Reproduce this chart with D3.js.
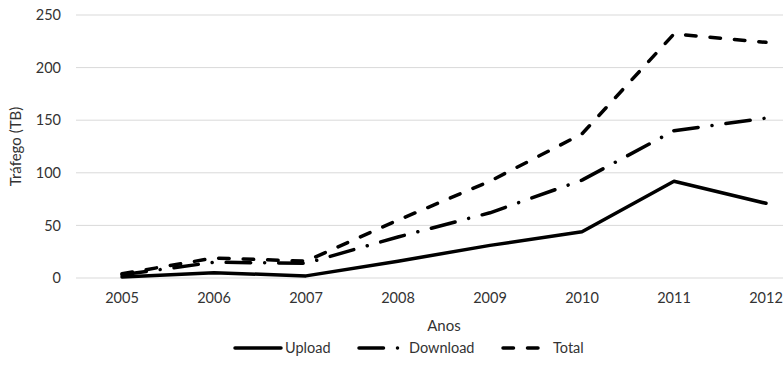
<!DOCTYPE html>
<html>
<head>
<meta charset="utf-8">
<script src="https://cdn.jsdelivr.net/npm/d3@7"></script>
<style>
  html, body { margin: 0; padding: 0; background: #fff; }
  svg text { font-family: Lato, "Open Sans", sans-serif; fill: #333; }
</style>
</head>
<body>
<svg id="chart" width="783" height="388"></svg>
<script>
// chart data
const years = ["2005", "2006", "2007", "2008", "2009", "2010", "2011", "2012"];
const upload = [1, 5, 2, 16, 31, 44, 92, 71];
const download = [3, 15, 14, 39, 62, 93, 140, 152];
const total = [4, 19, 16, 55, 92, 137, 232, 224];
const yTicks = [0, 50, 100, 150, 200, 250];

const series = [
  { name: "Upload", values: upload, dash: null },
  { name: "Download", values: download, dash: "24.5,14,0.01,14" },
  { name: "Total", values: total, dash: "10.5,14" },
];

const svg = d3.select("#chart");
const W = 783, H = 388;
// plot runs past the right edge, as in the source
const plotL = 76, plotR = 812, plotT = 15, plotB = 278;
const fs = 14.5;

// category axis: each year sits in the middle of its slot
const x = d3.scaleBand().domain(years).range([plotL, plotR]);
const xc = (i) => x(years[i]) + x.bandwidth() / 2;
const y = d3.scaleLinear().domain([0, 250]).range([plotB, plotT]);

// horizontal gridlines
svg.append("g")
  .selectAll("line").data(yTicks).join("line")
  .attr("x1", plotL).attr("x2", W)
  .attr("y1", (d) => y(d)).attr("y2", (d) => y(d))
  .attr("stroke", "#d9d9d9").attr("stroke-width", 1);

// y tick labels
const yAxis = svg.append("g").attr("transform", `translate(${plotL - 15},0)`)
  .call(d3.axisLeft(y).tickValues(yTicks).tickSize(0).tickPadding(0));
yAxis.select(".domain").remove();
yAxis.selectAll("text").attr("font-size", fs).style("font-family", "Lato, sans-serif").attr("fill", "#333");

// x tick labels
const xAxis = svg.append("g").attr("transform", `translate(0,${plotB})`)
  .call(d3.axisBottom(x).tickSize(0).tickPadding(15));
xAxis.select(".domain").remove();
xAxis.selectAll("text").attr("font-size", fs).style("font-family", "Lato, sans-serif").attr("fill", "#333");

// axis titles
svg.append("text")
  .attr("x", (plotL + plotR) / 2).attr("y", 331)
  .attr("text-anchor", "middle").attr("font-size", 15)
  .text("Anos");
svg.append("text")
  .attr("transform", `translate(21,${(plotT + plotB) / 2}) rotate(-90)`)
  .attr("text-anchor", "middle").attr("font-size", 15)
  .text("Tráfego (TB)");

// lines
const line = d3.line().x((d, i) => xc(i)).y((d) => y(d));
svg.append("g")
  .selectAll("path").data(series).join("path")
  .attr("d", (s) => line(s.values))
  .attr("fill", "none")
  .attr("stroke", "#000")
  .attr("stroke-width", 3.5)
  .attr("stroke-linejoin", "round")
  .attr("stroke-linecap", "round")
  .attr("stroke-dasharray", (s) => s.dash);

// legend
const legendY = 348;
const legendX = [235, 359, 503];
const lg = svg.append("g").selectAll("g").data(series).join("g")
  .attr("transform", (s, i) => `translate(${legendX[i]},${legendY})`);
lg.append("line")
  .attr("x1", 0).attr("x2", 46)
  .attr("y1", 0).attr("y2", 0)
  .attr("stroke", "#000").attr("stroke-width", 3.5)
  .attr("stroke-linecap", "round")
  .attr("stroke-dasharray", (s) => s.dash);
lg.append("text")
  .attr("x", 50).attr("y", 0).attr("dy", "0.35em")
  .attr("font-size", fs)
  .text((s) => s.name);
</script>
</body>
</html>
